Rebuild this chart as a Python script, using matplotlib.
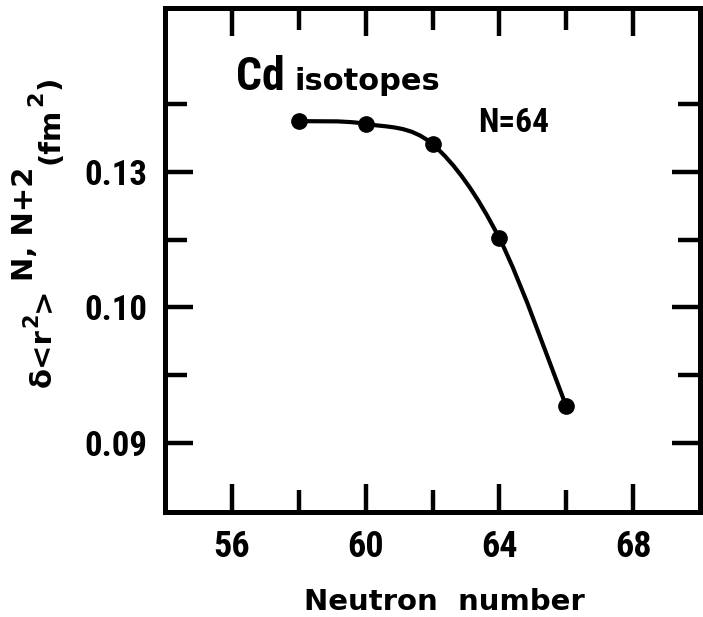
import numpy as np
import matplotlib
matplotlib.use("Agg")
import matplotlib.pyplot as plt
from matplotlib import font_manager
from matplotlib.path import Path
from matplotlib.patches import PathPatch

# Data: change in mean-square charge radius between neighbouring even Cd isotopes
neutron_number = [58, 60, 62, 64, 66]
delta_r2 = [0.1375, 0.1371, 0.1341, 0.1202, 0.0954]

x_tick_values = [56, 60, 64, 68]
x_tick_labels = ["56", "60", "64", "68"]
x_minor_values = [58, 62, 66]
y_tick_values = [0.09, 0.11, 0.13]
y_tick_labels = ["0.09", "0.10", "0.13"]
y_minor_values = [0.10, 0.12, 0.14]


def pick_font():
    """Prefer a narrow sans face for digits; fall back to DejaVu Sans."""
    entries = font_manager.fontManager.ttflist
    narrow_names = ["Liberation Sans Narrow", "Roboto Condensed", "Open Sans Condensed",
                    "Noto Sans Condensed", "DejaVu Sans Condensed"]
    for name in narrow_names:
        if any(f.name == name for f in entries):
            return name, "normal"
    for name in ["Noto Sans", "DejaVu Sans", "Open Sans", "Roboto", "Inter"]:
        for f in entries:
            if f.name == name and str(f.stretch) in ("condensed", "semi-condensed",
                                                      "extra-condensed"):
                return name, str(f.stretch)
    return "DejaVu Sans", "normal"


FACE, STRETCH = pick_font()
NARROW = dict(fontfamily=[FACE, "DejaVu Sans"], fontstretch=STRETCH, fontweight="bold")
WIDE = dict(fontfamily=["DejaVu Sans"], fontweight="bold")
W, H = 703, 617

fig = plt.figure(figsize=(W / 100, H / 100), dpi=100)
ax = fig.add_axes([165 / W, 105 / H, 535 / W, 504 / H])
ax.set_xlim(54, 70)
ax.set_ylim(0.0798, 0.1542)

for sp in ax.spines.values():
    sp.set_linewidth(3.6)

ax.set_xticks(x_tick_values)
ax.set_xticks(x_minor_values, minor=True)
ax.set_yticks(y_tick_values)
ax.set_yticks(y_minor_values, minor=True)
ax.set_xticklabels(x_tick_labels, fontsize=26, **NARROW)
ax.set_yticklabels(y_tick_labels, fontsize=25, **NARROW)
ax.tick_params(which="both", direction="in", top=True, right=True, width=3.2)
ax.tick_params(which="major", length=20)
ax.tick_params(which="minor", length=16)
ax.tick_params(axis="x", which="major", pad=12)
ax.tick_params(axis="y", which="major", pad=13)

# Smooth curve through the measured points (Catmull-Rom in display space)
pts = ax.transData.transform(np.column_stack([neutron_number, delta_r2]))
n = len(pts)
verts = [pts[0]]
codes = [Path.MOVETO]
for i in range(n - 1):
    p0 = pts[i - 1] if i > 0 else pts[i]
    p1 = pts[i]
    p2 = pts[i + 1]
    p3 = pts[i + 2] if i + 2 < n else pts[i + 1]
    c1 = p1 + (p2 - p0) / 6.0
    c2 = p2 - (p3 - p1) / 6.0
    verts += [c1, c2, p2]
    codes += [Path.CURVE4] * 3
verts = ax.transData.inverted().transform(np.array(verts))
ax.add_patch(PathPatch(Path(verts, codes), fill=False, lw=3, edgecolor="black",
                       capstyle="round", joinstyle="round"))
ax.plot(neutron_number, delta_r2, "o", ms=11, color="black", zorder=3)

renderer = fig.canvas.get_renderer()


def ftext(x, y, s, size, style, **kw):
    return fig.text(x / W, (H - y) / H, s, fontsize=size, **style, **kw)


t = ftext(236, 90, "Cd", 33, NARROW, ha="left", va="baseline")
x_end = t.get_window_extent(renderer).x1
ftext(x_end + 10, 90, "isotopes", 22, WIDE, ha="left", va="baseline")
ftext(478, 132, "N=64", 24, NARROW, ha="left", va="baseline")
ftext(444, 610, "Neutron  number", 21, WIDE, ha="center", va="baseline")

# y-axis label assembled from rotated pieces, each one placed after the last
rot = dict(rotation=90, rotation_mode="anchor", ha="left", va="baseline")
pieces = [  # text, baseline x (px), size, gap before (px)
    ("δ<r", 51, 21, 0),
    ("2", 37, 15, 1),
    (">", 51, 21, 1),
    ("N, N+2", 33, 21, 6),
    ("(fm", 58, 21, 3),
    ("2", 42, 16, 1),
    (")", 58, 21, 2),
]
y_px = 387.0  # distance from top of image where the label starts
for s, bx, size, gap in pieces:
    y_px -= gap
    t = ftext(bx, y_px, s, size, WIDE, **rot)
    ext = t.get_window_extent(renderer)
    y_px = H - ext.y1

fig.savefig("out.png", dpi=100)
